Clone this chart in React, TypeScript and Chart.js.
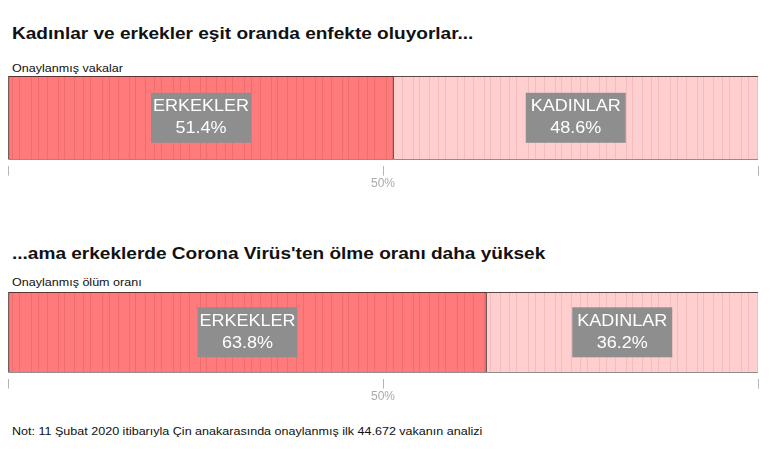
import React, {useEffect, useRef} from "react";
import {Chart, registerables} from "chart.js";

Chart.register(...registerables)

const groups = ["ERKEKLER", "KADINLAR"]
const casesShare = [51.4, 48.6]
const deathShare = [63.8, 36.2]
const tickValues = [0, 50, 100]
const tickLabels = ["", "50%", ""]

const FONT = "'Liberation Sans', Arial, sans-serif"
const fills = ["#ff7b7b", "#ffcfd0"]
const stripeColors = ["rgba(150,30,30,0.14)", "rgba(170,80,80,0.14)"]
// the source picture is a little stretched sideways
const STRETCH = 1.12

// faint irregular stripes like the original unit-bars
const makeStripes = (base: string, line: string) => {
    const c = document.createElement("canvas")
    c.width = 71
    c.height = 10
    const g = c.getContext("2d") as CanvasRenderingContext2D
    g.fillStyle = base
    g.fillRect(0, 0, c.width, c.height)
    g.fillStyle = line
    ;[3, 12, 19, 31, 38, 47, 58, 64].forEach(o => g.fillRect(o, 0, 1, c.height))
    return g.createPattern(c, "repeat") as CanvasPattern
}

const labelBoxes = {
    id: "labelBoxes",
    afterDatasetsDraw(chart: any) {
        const ctx = chart.ctx as CanvasRenderingContext2D
        chart.data.datasets.forEach((ds: any, i: number) => {
            const el = chart.getDatasetMeta(i).data[0]
            const {x, base, y} = el.getProps(["x", "base", "y"], true)
            const cx = (x + base) / 2
            ctx.save()
            ctx.fillStyle = "#8e8e8e"
            ctx.fillRect(cx - 50, y - 25, 100, 50)
            ctx.translate(cx, y)
            ctx.scale(1.06, 1)
            ctx.fillStyle = "#ffffff"
            ctx.textAlign = "center"
            ctx.textBaseline = "middle"
            ctx.font = `17px ${FONT}`
            ctx.fillText(ds.label, 0, -11)
            ctx.fillText(ds.data[0].toFixed(1) + "%", 0, 11)
            ctx.restore()
        })
    }
}

const SplitBar = ({values, height}: {values: number[], height: number}) => {
    const ref = useRef<HTMLCanvasElement>(null)
    useEffect(() => {
        const ctx = (ref.current as HTMLCanvasElement).getContext("2d") as CanvasRenderingContext2D
        const chart = new Chart(ctx, {
            type: "bar",
            data: {
                labels: [""],
                datasets: groups.map((g, i) => ({
                    label: g,
                    data: [values[i]],
                    backgroundColor: makeStripes(fills[i], stripeColors[i]),
                    borderColor: "#2a1a1a",
                    borderWidth: i === 0 ? {top: 1, bottom: 1, left: 1, right: 1} : {top: 1, bottom: 1, left: 0, right: 0},
                    borderSkipped: false,
                    barPercentage: 1,
                    categoryPercentage: 1,
                }))
            },
            options: {
                indexAxis: "y",
                animation: false,
                responsive: false,
                maintainAspectRatio: false,
                layout: {padding: {top: 6, left: 8, right: 12, bottom: 0}},
                plugins: {legend: {display: false}, tooltip: {enabled: false}},
                scales: {
                    x: {
                        stacked: true,
                        min: 0,
                        max: 100,
                        afterBuildTicks: (axis: any) => {
                            axis.ticks = tickValues.map(v => ({value: v}))
                        },
                        ticks: {
                            padding: 1,
                            color: "#aaaaaa",
                            font: {family: FONT, size: 12},
                            maxRotation: 0,
                            autoSkip: false,
                            callback: (_v: any, idx: number) => tickLabels[idx],
                        },
                        grid: {
                            drawOnChartArea: false,
                            color: "#b5b5b5",
                            tickLength: 16,
                            tickBorderDash: [0, 6, 10, 40],
                        },
                        border: {display: false},
                    },
                    y: {stacked: true, display: false},
                }
            },
            plugins: [labelBoxes]
        } as any)
        return () => chart.destroy()
    }, [values, height])
    return <canvas ref={ref} width={770} height={height} style={{width: "770px", height: height + "px", display: "block"}}/>
}

const txt = (top: number, size: number, bold: boolean, stretch: number): React.CSSProperties => ({
    position: "absolute",
    left: 12,
    top,
    fontFamily: FONT,
    fontSize: size,
    fontWeight: bold ? 700 : 400,
    lineHeight: "20px",
    color: "#111",
    whiteSpace: "nowrap",
    transform: `scaleX(${stretch})`,
    transformOrigin: "left center",
})

const App = () => {
    useEffect(() => {
        document.body.style.margin = "0"
    }, [])
    return (
        <div style={{position: "relative", width: 770, height: 450, background: "#fff", overflow: "hidden"}}>
            <div style={txt(24, 17, true, STRETCH)}>Kadınlar ve erkekler eşit oranda enfekte oluyorlar...</div>
            <div style={txt(58, 11, false, 1.14)}>Onaylanmış vakalar</div>
            <div style={{position: "absolute", left: 0, top: 70}}>
                <SplitBar values={casesShare} height={122}/>
            </div>

            <div style={txt(244, 17, true, STRETCH)}>...ama erkeklerde Corona Virüs'ten ölme oranı daha yüksek</div>
            <div style={txt(272, 11, false, 1.14)}>Onaylanmış ölüm oranı</div>
            <div style={{position: "absolute", left: 0, top: 286}}>
                <SplitBar values={deathShare} height={119}/>
            </div>

            <div style={txt(421, 11, false, 1.14)}>Not: 11 Şubat 2020 itibarıyla Çin anakarasında onaylanmış ilk 44.672 vakanın analizi</div>
        </div>
    )
}

export default App
